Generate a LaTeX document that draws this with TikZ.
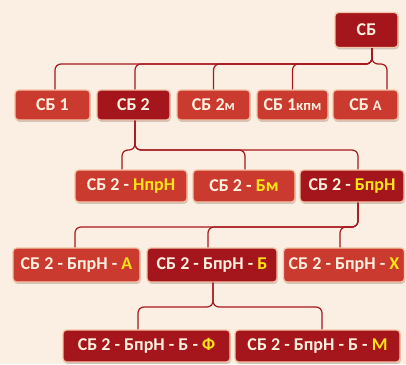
\documentclass[tikz,border=0pt]{standalone}
\usepackage{fontspec}
\setmainfont{Carlito}
\usetikzlibrary{shadows,calc}
\definecolor{bgc}{HTML}{FBEEE2}
\definecolor{redbox}{HTML}{CB3A2E}
\definecolor{darkbox}{HTML}{A5151C}
\definecolor{edgec}{HTML}{F2C6A6}
\definecolor{linec}{HTML}{A8181E}
\definecolor{hl}{HTML}{FFE418}
\definecolor{txt}{HTML}{FFF0E0}
\newcommand{\hy}[1]{\textcolor{hl}{#1}}
\newcommand{\sml}[1]{{\fontsize{14.5}{16}\selectfont #1}}
\tikzset{
  boxbase/.style={rectangle, rounded corners=3.5pt, draw=edgec, line width=1.3pt,
    text=txt, font=\fontsize{18}{20}\selectfont\bfseries, inner sep=0pt,
    drop shadow={shadow xshift=0.8pt, shadow yshift=-1.8pt, opacity=0.3, fill=black!60}},
  rbox/.style={boxbase, fill=redbox},
  dbox/.style={boxbase, fill=darkbox},
  conn/.style={draw=linec, line width=1.2pt, rounded corners=6pt}
}
\begin{document}
\begin{tikzpicture}[x=1pt,y=-1pt]
\fill[bgc] (0,0) rectangle (406,364);
\useasboundingbox (0,0) rectangle (406,364);
% bus levels
\coordinate (b1) at (0,64);
\coordinate (b2) at (0,150);
\coordinate (b3) at (0,227);
\coordinate (b4) at (0,307);
% level 0
\node[dbox, minimum width=63pt, minimum height=35pt] (r) at (366.5,30) {СБ};
% level 1
\node[rbox, minimum width=75pt, minimum height=30pt] (a1) at (52.5,105) {СБ 1};
\node[dbox, minimum width=73pt, minimum height=30pt] (a2) at (133.5,105) {СБ 2};
\node[rbox, minimum width=73pt, minimum height=30pt] (a3) at (213.5,105) {СБ 2\sml{м}};
\node[rbox, minimum width=71pt, minimum height=30pt] (a4) at (292.5,105) {СБ 1\sml{кпм}};
\node[rbox, minimum width=65pt, minimum height=30pt] (a5) at (365.5,105) {СБ \sml{А}};
% level 2
\node[rbox, minimum width=112pt, minimum height=32pt] (c1) at (131,186) {СБ 2 - \hy{НпрН}};
\node[rbox, minimum width=102pt, minimum height=32pt] (c2) at (244,186) {СБ 2 - \hy{Бм}};
\node[dbox, minimum width=104pt, minimum height=32pt] (c3) at (352,186) {СБ 2 - \hy{БпрН}};
% level 3
\node[rbox, minimum width=127pt, minimum height=34pt] (d1) at (76.5,265) {СБ 2 - БпрН - \hy{А}};
\node[dbox, minimum width=130pt, minimum height=34pt] (d2) at (212,265) {СБ 2 - БпрН - \hy{Б}};
\node[rbox, minimum width=121pt, minimum height=34pt] (d3) at (344,265) {СБ 2 - БпрН - \hy{Х}};
% level 4
\node[dbox, minimum width=167pt, minimum height=32pt] (e1) at (146.5,346) {СБ 2 - БпрН - Б - \hy{Ф}};
\node[dbox, minimum width=165pt, minimum height=32pt] (e2) at (317.5,346) {СБ 2 - БпрН - Б - \hy{М}};
% connectors level 0 -> 1
\path[conn] ([xshift=5.5pt]r.south) -- ([xshift=5.5pt]r.south |- b1) -| ([xshift=2.5pt]a1.north);
\path[conn] ([xshift=5.5pt]r.south) -- ([xshift=5.5pt]r.south |- b1) -| ([xshift=1.5pt]a2.north);
\path[conn] ([xshift=5.5pt]r.south) -- ([xshift=5.5pt]r.south |- b1) -| (a3.north);
\path[conn] ([xshift=5.5pt]r.south) -- ([xshift=5.5pt]r.south |- b1) -| (a4.north);
\path[conn] ([xshift=5.5pt]r.south) -- ([xshift=5.5pt]r.south |- b1) -| ([xshift=21.5pt]a5.north);
% level 1 -> 2
\path[conn] ([xshift=1.5pt]a2.south) -- ([xshift=1.5pt]a2.south |- b2) -| ([xshift=-9pt]c1.north);
\path[conn] ([xshift=1.5pt]a2.south) -- ([xshift=1.5pt]a2.south |- b2) -| ([xshift=1pt]c2.north);
\path[conn] ([xshift=1.5pt]a2.south) -- ([xshift=1.5pt]a2.south |- b2) -| ([xshift=6pt]c3.north);
% level 2 -> 3
\path[conn] ([xshift=6pt]c3.south) -- ([xshift=6pt]c3.south |- b3) -| ([xshift=-1.5pt]d1.north);
\path[conn] ([xshift=6pt]c3.south) -- ([xshift=6pt]c3.south |- b3) -| ([xshift=-4pt]d2.north);
\path[conn] ([xshift=6pt]c3.south) -- ([xshift=6pt]c3.south |- b3) -| ([xshift=-4pt]d3.north);
% level 3 -> 4
\path[conn] ([xshift=1pt]d2.south) -- ([xshift=1pt]d2.south |- b4) -| ([xshift=-8.5pt]e1.north);
\path[conn] ([xshift=1pt]d2.south) -- ([xshift=1pt]d2.south |- b4) -| ([xshift=4.5pt]e2.north);
\end{tikzpicture}
\end{document}
